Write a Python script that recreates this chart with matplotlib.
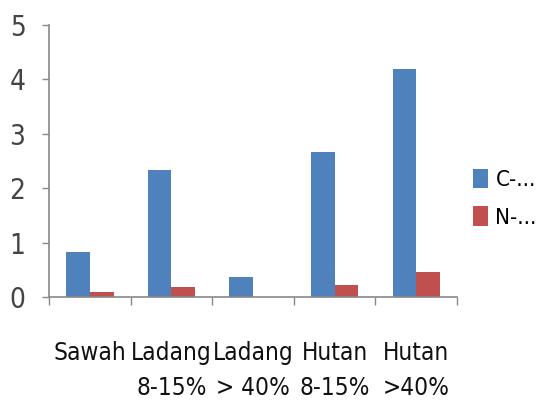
import matplotlib
matplotlib.use("Agg")
import matplotlib.pyplot as plt
import numpy as np

categories = ["Sawah", "Ladang\n8-15%", "Ladang\n> 40%", "Hutan\n8-15%", "Hutan\n>40%"]
c_values = [0.83, 2.33, 0.37, 2.67, 4.19]
n_values = [0.09, 0.18, 0.0, 0.22, 0.46]
series_names = ["C-...", "N-..."]
y_ticks = [0, 1, 2, 3, 4, 5]

plt.rcParams["font.family"] = ["DejaVu Sans"]
plt.rcParams["font.stretch"] = "condensed"

fig = plt.figure(figsize=(5.39, 4.17), dpi=100)
ax = fig.add_axes([0.091, 0.288, 0.757, 0.652])

x = np.arange(len(categories))
w = 0.29
ax.bar(x - w / 2, c_values, w, color="#4F81BD", label=series_names[0])
ax.bar(x + w / 2, n_values, w, color="#C0504D", label=series_names[1])

ax.set_xlim(-0.5, len(categories) - 0.5)
ax.set_ylim(0, 5)
ax.set_yticks(y_ticks)
ax.set_yticklabels([str(t) for t in y_ticks], fontsize=20, color="#444444")

ax.set_xticks(x)
ax.set_xticklabels(categories, fontsize=17.5, linespacing=1.55, color="#111111")
ax.set_xticks(np.arange(len(categories) + 1) - 0.5, minor=True)
ax.tick_params(axis="x", which="major", length=0, pad=32)
ax.tick_params(axis="x", which="minor", length=6, color="#888888", width=1)
ax.tick_params(axis="y", length=5, color="#888888", width=1, pad=12)

for side in ("top", "right"):
    ax.spines[side].set_visible(False)
for side in ("left", "bottom"):
    ax.spines[side].set_color("#888888")
    ax.spines[side].set_linewidth(1.2)

fig.legend(loc="center left", bbox_to_anchor=(0.878, 0.525), frameon=False,
           fontsize=16, handlelength=0.65, handleheight=0.95, handletextpad=0.35,
           labelspacing=0.75, borderpad=0, borderaxespad=0)

fig.savefig("out.png", dpi=100)
